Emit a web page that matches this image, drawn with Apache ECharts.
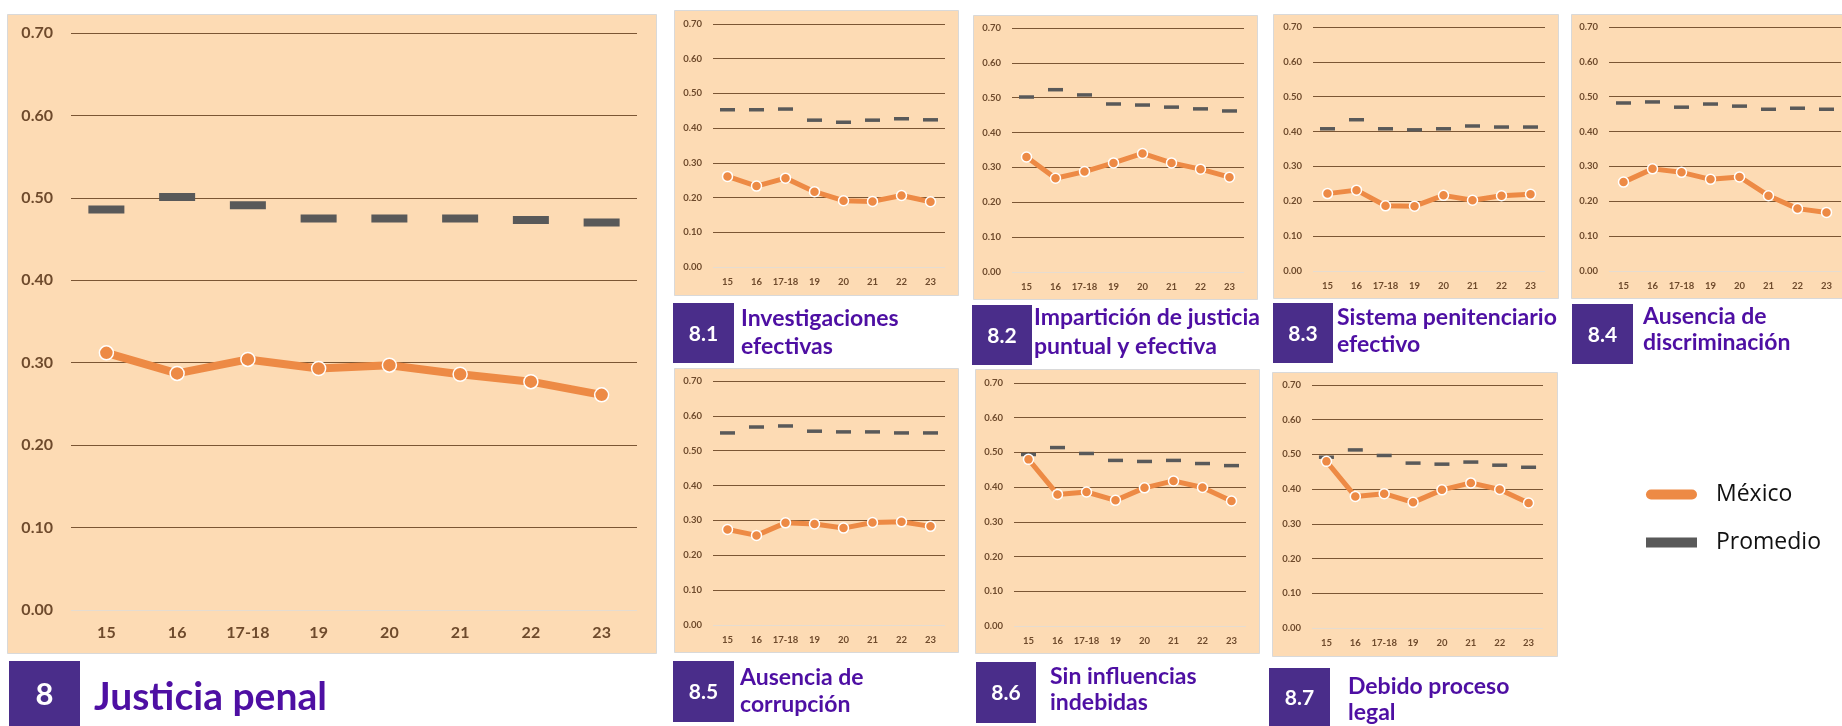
<!DOCTYPE html>
<html>
<head>
<meta charset="utf-8">
<style>
  html, body { margin: 0; background: #fff; }
  #chart { width: 1842px; height: 726px; }
</style>
</head>
<body>
<div id="chart"></div>
<script src="https://cdn.jsdelivr.net/npm/echarts@6/dist/echarts.min.js"></script>
<script>
var years = ['15', '16', '17-18', '19', '20', '21', '22', '23'];
var yTicks = [0, 0.1, 0.2, 0.3, 0.4, 0.5, 0.6, 0.7];

// México / Promedio per pillar and sub-factor
var mex8  = [0.312, 0.287, 0.304, 0.293, 0.297, 0.286, 0.277, 0.261];
var prom8 = [0.486, 0.501, 0.491, 0.475, 0.475, 0.475, 0.473, 0.470];
var mex81  = [0.261, 0.233, 0.256, 0.217, 0.191, 0.189, 0.206, 0.188];
var prom81 = [0.453, 0.453, 0.455, 0.423, 0.417, 0.423, 0.427, 0.424];
var mex82  = [0.330, 0.269, 0.288, 0.313, 0.340, 0.313, 0.295, 0.272];
var prom82 = [0.502, 0.523, 0.508, 0.482, 0.479, 0.473, 0.468, 0.462];
var mex83  = [0.222, 0.232, 0.187, 0.186, 0.217, 0.203, 0.216, 0.220];
var prom83 = [0.408, 0.434, 0.408, 0.405, 0.408, 0.416, 0.413, 0.413];
var mex84  = [0.255, 0.293, 0.283, 0.263, 0.270, 0.216, 0.179, 0.168];
var prom84 = [0.482, 0.485, 0.470, 0.479, 0.473, 0.464, 0.467, 0.464];
var mex85  = [0.274, 0.257, 0.293, 0.290, 0.278, 0.294, 0.296, 0.283];
var prom85 = [0.551, 0.568, 0.571, 0.556, 0.554, 0.554, 0.551, 0.551];
var mex86  = [0.480, 0.379, 0.386, 0.362, 0.398, 0.418, 0.399, 0.360];
var prom86 = [0.494, 0.514, 0.497, 0.477, 0.474, 0.477, 0.468, 0.462];
var mex87  = [0.480, 0.379, 0.387, 0.362, 0.398, 0.418, 0.399, 0.360];
var prom87 = [0.492, 0.513, 0.497, 0.475, 0.472, 0.478, 0.469, 0.463];

var BG = '#FDDBB4', GRIDC = '#7B5634', LABC = '#6E4A2C', ORANGE = '#ED8A45',
    GREY = '#595959', BOX = '#4A2D8A', TITLEC = '#4E0FA3', FONT = 'Lato';

// grid: [left, top, width, height]; bg: panel rect; box: number square
var panels = [
  { code: '8', title: ['Justicia penal'], mex: mex8, prom: prom8, big: true,
    grid: [71, 33, 566, 577], bg: [7, 14, 649, 639], box: [9, 661, 71, 65], tx: 94, ty: [697] },
  { code: '8.1', title: ['Investigaciones', 'efectivas'], mex: mex81, prom: prom81,
    grid: [713, 24, 232, 243], bg: [674, 10, 284, 285], box: [673, 303, 61, 60], tx: 741, ty: [319, 347] },
  { code: '8.2', title: ['Impartición de justicia', 'puntual y efectiva'], mex: mex82, prom: prom82,
    grid: [1012, 28, 232, 244], bg: [973, 15, 284, 284], box: [972, 305, 60, 60], tx: 1034, ty: [318, 347] },
  { code: '8.3', title: ['Sistema penitenciario', 'efectivo'], mex: mex83, prom: prom83,
    grid: [1313, 27, 232, 244], bg: [1273, 14, 285, 284], box: [1273, 303, 60, 60], tx: 1337, ty: [318, 345] },
  { code: '8.4', title: ['Ausencia de', 'discriminación'], mex: mex84, prom: prom84,
    grid: [1609, 27, 232, 244], bg: [1571, 14, 280, 284], box: [1572, 304, 61, 60], tx: 1643, ty: [317, 343] },
  { code: '8.5', title: ['Ausencia de', 'corrupción'], mex: mex85, prom: prom85,
    grid: [713, 381, 232, 244], bg: [674, 368, 284, 284], box: [673, 661, 61, 61], tx: 740, ty: [678, 705] },
  { code: '8.6', title: ['Sin influencias', 'indebidas'], mex: mex86, prom: prom86,
    grid: [1014, 383, 232, 243], bg: [975, 369, 284, 284], box: [976, 662, 60, 61], tx: 1050, ty: [677, 703] },
  { code: '8.7', title: ['Debido proceso', 'legal'], mex: mex87, prom: prom87,
    grid: [1312, 385, 231, 243], bg: [1272, 372, 285, 284], box: [1269, 668, 61, 58], tx: 1348, ty: [687, 713] }
];

var grids = [], xAxes = [], yAxes = [], series = [], graphics = [];

panels.forEach(function (p, i) {
  var big = !!p.big;
  grids.push({ left: p.grid[0], top: p.grid[1], width: p.grid[2], height: p.grid[3] });
  xAxes.push({
    type: 'category', gridIndex: i, data: years, boundaryGap: true,
    axisLine: { show: false }, axisTick: { show: false },
    axisLabel: { color: LABC, fontFamily: FONT, fontWeight: 'bold',
      fontSize: big ? 16 : 9.5, margin: big ? 15 : 10, interval: 0 }
  });
  var splitColors = yTicks.map(function (t, k) { return k === 0 ? '#E6DCD0' : GRIDC; });
  yAxes.push({
    type: 'value', gridIndex: i, min: 0, max: 0.7, interval: 0.1,
    axisLine: { show: false }, axisTick: { show: false },
    axisLabel: { color: LABC, fontFamily: FONT, fontWeight: 'bold',
      fontSize: big ? 16 : 9.5, margin: big ? 18 : 11,
      formatter: function (v) { return v.toFixed(2); } },
    splitLine: { lineStyle: { color: splitColors, width: 1 } }
  });
  series.push({
    name: 'Promedio', type: 'scatter', xAxisIndex: i, yAxisIndex: i,
    data: p.prom, symbol: 'rect', symbolSize: big ? [36, 8] : [15, 3.5],
    itemStyle: { color: GREY, opacity: 1 }, silent: true
  });
  series.push({
    name: 'México', type: 'line', xAxisIndex: i, yAxisIndex: i,
    data: p.mex, symbol: 'circle', symbolSize: big ? 14 : 10,
    lineStyle: { color: ORANGE, width: big ? 8 : 5 },
    itemStyle: { color: ORANGE, borderColor: '#fff', borderWidth: 1.5 },
    silent: true
  });

  graphics.push({
    type: 'rect', z: -10, silent: true,
    shape: { x: p.bg[0] + 0.5, y: p.bg[1] + 0.5, width: p.bg[2], height: p.bg[3] },
    style: { fill: BG, stroke: '#D9D9D9', lineWidth: 1 }
  });
  graphics.push({
    type: 'rect', silent: true,
    shape: { x: p.box[0], y: p.box[1], width: p.box[2], height: p.box[3] },
    style: { fill: BOX }
  });
  graphics.push({
    type: 'text', silent: true,
    style: { text: p.code, x: p.box[0] + p.box[2] / 2, y: p.box[1] + p.box[3] / 2 + 1,
      textAlign: 'center', textVerticalAlign: 'middle', fill: '#fff',
      font: 'bold ' + (big ? '31px' : '21px') + ' ' + FONT }
  });
  p.title.forEach(function (line, k) {
    graphics.push({
      type: 'text', silent: true,
      style: { text: line, x: p.tx, y: p.ty[k], textAlign: 'left', textVerticalAlign: 'middle',
        fill: TITLEC, font: 'bold ' + (big ? '39px' : '23px') + ' ' + FONT }
    });
  });
});

var chart = echarts.init(document.getElementById('chart'));
chart.setOption({
  animation: false,
  backgroundColor: '#fff',
  grid: grids,
  xAxis: xAxes,
  yAxis: yAxes,
  series: series,
  graphic: { elements: graphics },
  legend: {
    orient: 'vertical', left: 1641, top: 478,
    itemWidth: 51, itemHeight: 10, itemGap: 25, selectedMode: false,
    itemStyle: { borderWidth: 0 },
    data: [
      { name: 'México', icon: 'path://M5 0H46A5 5 0 0 1 46 10H5A5 5 0 0 1 5 0Z' },
      { name: 'Promedio', icon: 'rect' }
    ],
    textStyle: { color: '#111', fontFamily: 'Open Sans', fontSize: 23, padding: [0, 0, 0, 14] }
  }
});
</script>
</body>
</html>
